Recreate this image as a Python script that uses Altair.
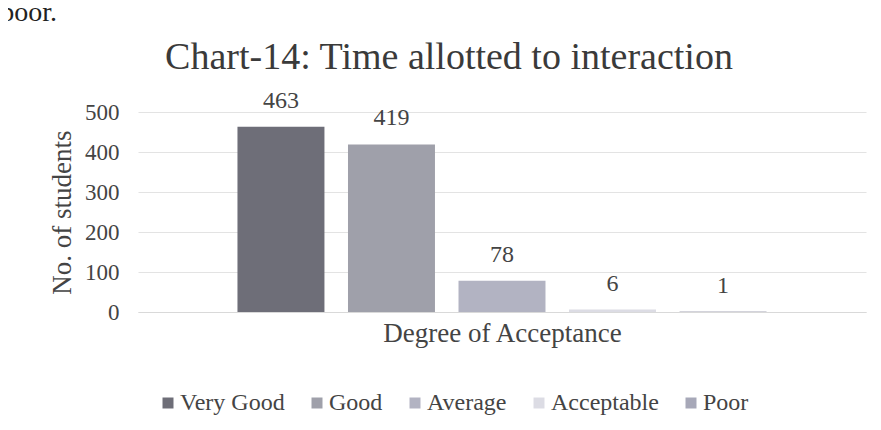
import altair as alt
import pandas as pd

categories = ["Very Good", "Good", "Average", "Acceptable", "Poor"]
students = [463, 419, 78, 6, 1]
colors = ["#6e6e78", "#9fa0aa", "#b2b3c2", "#dcdce4", "#a7a8b8"]
y_ticks = [0, 100, 200, 300, 400, 500]
title_text = "Chart-14: Time allotted to interaction"
note_text = "poor."

df = pd.DataFrame({"category": categories, "students": students})

FONT = "Liberation Serif"
TXT = "#444444"
W, H = 728, 200

x_enc = alt.X(
    "category:N",
    sort=categories,
    scale=alt.Scale(paddingInner=0.213, paddingOuter=0.9),
    axis=alt.Axis(
        title="Degree of Acceptance",
        labels=False,
        ticks=False,
        domain=True,
        domainColor="#d9d9d9",
        titleFont=FONT,
        titleFontSize=27,
        titleFontWeight="normal",
        titleColor=TXT,
        titlePadding=8,
    ),
)

y_enc = alt.Y(
    "students:Q",
    scale=alt.Scale(domain=[0, 500], nice=False),
    axis=alt.Axis(
        title="No. of students",
        values=y_ticks,
        grid=True,
        gridColor="#e3e3e3",
        domain=False,
        ticks=False,
        labelOverlap=False,
        labelFont=FONT,
        labelFontSize=23,
        labelColor=TXT,
        labelPadding=19,
        titleFont=FONT,
        titleFontSize=27,
        titleFontWeight="normal",
        titleColor=TXT,
        titlePadding=8,
    ),
)

base = alt.Chart(df).encode(x=x_enc, y=y_enc)

bars = base.mark_bar().encode(
    color=alt.Color(
        "category:N",
        sort=categories,
        scale=alt.Scale(domain=categories, range=colors),
        legend=alt.Legend(
            title=None,
            orient="none",
            direction="horizontal",
            legendX=18,
            legendY=279,
            symbolType="square",
            symbolSize=121,
            symbolStrokeWidth=0,
            labelFont=FONT,
            labelFontSize=24,
            labelColor=TXT,
            columnPadding=20,
            labelOffset=0,
        ),
    ),
)

labels = base.mark_text(dy=-26, font=FONT, fontSize=24, color=TXT).encode(
    text=alt.Text("students:Q"),
)

title = alt.Chart(pd.DataFrame({"t": [title_text]})).mark_text(
    font=FONT, fontSize=38, color="#3a3a3a", align="center", baseline="alphabetic"
).encode(
    x=alt.value(311),
    y=alt.value(-43),
    text="t:N",
)

note = alt.Chart(pd.DataFrame({"t": [note_text]})).mark_text(
    font=FONT, fontSize=28, color="#222222", align="right", baseline="alphabetic"
).encode(
    x=alt.value(-81),
    y=alt.value(-91),
    text="t:N",
)

chart = (
    alt.layer(bars, labels, title, note)
    .properties(
        width=W,
        height=H,
        autosize=alt.AutoSizeParams(type="none"),
        padding={"left": 130, "top": 104, "right": 5, "bottom": 110},
    )
    .configure_view(stroke=None)
)

chart.save("out.html", embed_options={"renderer": "svg", "actions": False})
